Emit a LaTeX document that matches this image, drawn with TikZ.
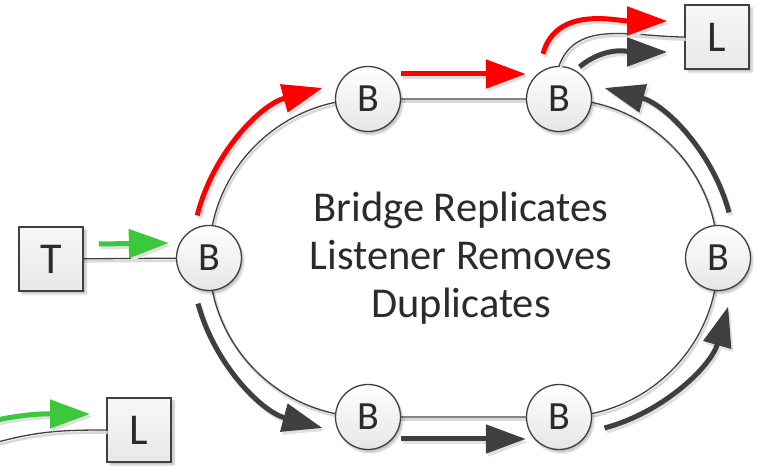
\documentclass[tikz,border=0pt]{standalone}
\usepackage{fontspec}
\setmainfont{Carlito}
\usetikzlibrary{arrows.meta,backgrounds,shadows.blur}

\definecolor{ink}{HTML}{404040}
\definecolor{txt}{HTML}{2B2B2B}
\definecolor{flowred}{HTML}{FF0000}
\definecolor{flowgreen}{HTML}{3CC83C}
\definecolor{flowdark}{HTML}{3F3F3F}

\begin{document}
\begin{tikzpicture}[x=1pt,y=1pt,
  bridge/.style={circle, draw=ink, line width=1.3pt, minimum size=65pt, inner sep=0pt,
    top color=white, bottom color=black!10, text=txt,
    font=\fontsize{40}{40}\selectfont,
    blur shadow={shadow xshift=2pt, shadow yshift=-3pt, shadow opacity=25, shadow blur steps=6}},
  endbox/.style={rectangle, draw=ink, line width=1.6pt, minimum size=64pt, inner sep=0pt,
    top color=black!3, bottom color=black!9, text=txt,
    font=\fontsize{44}{44}\selectfont,
    blur shadow={shadow xshift=3pt, shadow yshift=-3pt, shadow opacity=25, shadow blur steps=6}},
  link/.style={draw=ink, line width=1.3pt,
    preaction={draw=black!15, line width=2.6pt, transform canvas={shift={(1.5pt,-2.5pt)}}}},
  flow/.style={line width=5pt, -{Triangle[length=40pt,width=28pt]},
    preaction={draw=black!12, line width=5pt, -{Triangle[length=40pt,width=28pt]},
      transform canvas={shift={(2pt,-3pt)}}}},
]
\useasboundingbox (0,0) rectangle (757,470);

% centres of the two half-circles of the ring
\coordinate (cl) at (368,212);
\coordinate (cr) at (559,212);

% bridges round the ring
\node[bridge] (LB) at (209,212) {B};
\node[bridge] (B1) at (368,371) {B};
\node[bridge] (B2) at (559,371) {B};
\node[bridge] (RB) at (718,212) {B};
\node[bridge] (B3) at (368,53) {B};
\node[bridge] (B4) at (559,53) {B};

% talker and listeners
\node[endbox] (T) at (51,211) {T};
\node[endbox] (Ltop) at (717,433) {L};
\node[endbox] (Lbot) at (139,40) {L};

\node[font=\fontsize{42.5}{48}\selectfont, align=center, text=txt] (msg) at (461,212)
  {Bridge Replicates\\Listener Removes\\Duplicates};

% ring links
\begin{scope}[on background layer]
  \draw[link] (T.center) -- (LB.center);
  \draw[link] (LB.center) to[out=90,in=180] (B1.center) -- (B2.center)
    to[out=0,in=90] (RB.center) to[out=-90,in=0] (B4.center) -- (B3.center)
    to[out=180,in=-90] (LB.center);
\end{scope}
\draw[link] (B2.north) to[out=70,in=180] (Ltop.west);
\coordinate (wl) at (-2,28);
\draw[link] (wl) to[out=15,in=180] (Lbot.west);

% frame flows
\draw[flow, draw=flowgreen] ([shift={(15,15)}]T.east) -- ([shift={(-7,15)}]LB.west);
\draw[flow, draw=flowred] ([shift={(166:176)}]cl) arc[start angle=166, end angle=105, radius=176];
\draw[flow, draw=flowred] ([yshift=25]B1.east) -- ([yshift=25]B2.west);
\draw[flow, draw=flowred] ([shift={(-16,12)}]B2.north) to[out=75,in=180] ([shift={(-17,16)}]Ltop.west);
\draw[flow, draw=flowdark] ([shift={(3,4)}]B2.58) to[out=40,in=180] ([shift={(-17,-15)}]Ltop.west);
\draw[flow, draw=flowdark] ([shift={(15:176)}]cr) arc[start angle=15, end angle=75, radius=176];
\draw[flow, draw=flowdark] ([shift={(-75:176)}]cr) arc[start angle=-75, end angle=-16, radius=176];
\draw[flow, draw=flowdark] ([yshift=-22]B3.east) -- ([yshift=-22]B4.west);
\draw[flow, draw=flowdark] ([shift={(195:176)}]cl) arc[start angle=195, end angle=255, radius=176];
\coordinate (wg) at (-3,50);
\draw[flow, draw=flowgreen] (wg) to[out=12,in=180] (90,56);
\end{tikzpicture}
\end{document}
